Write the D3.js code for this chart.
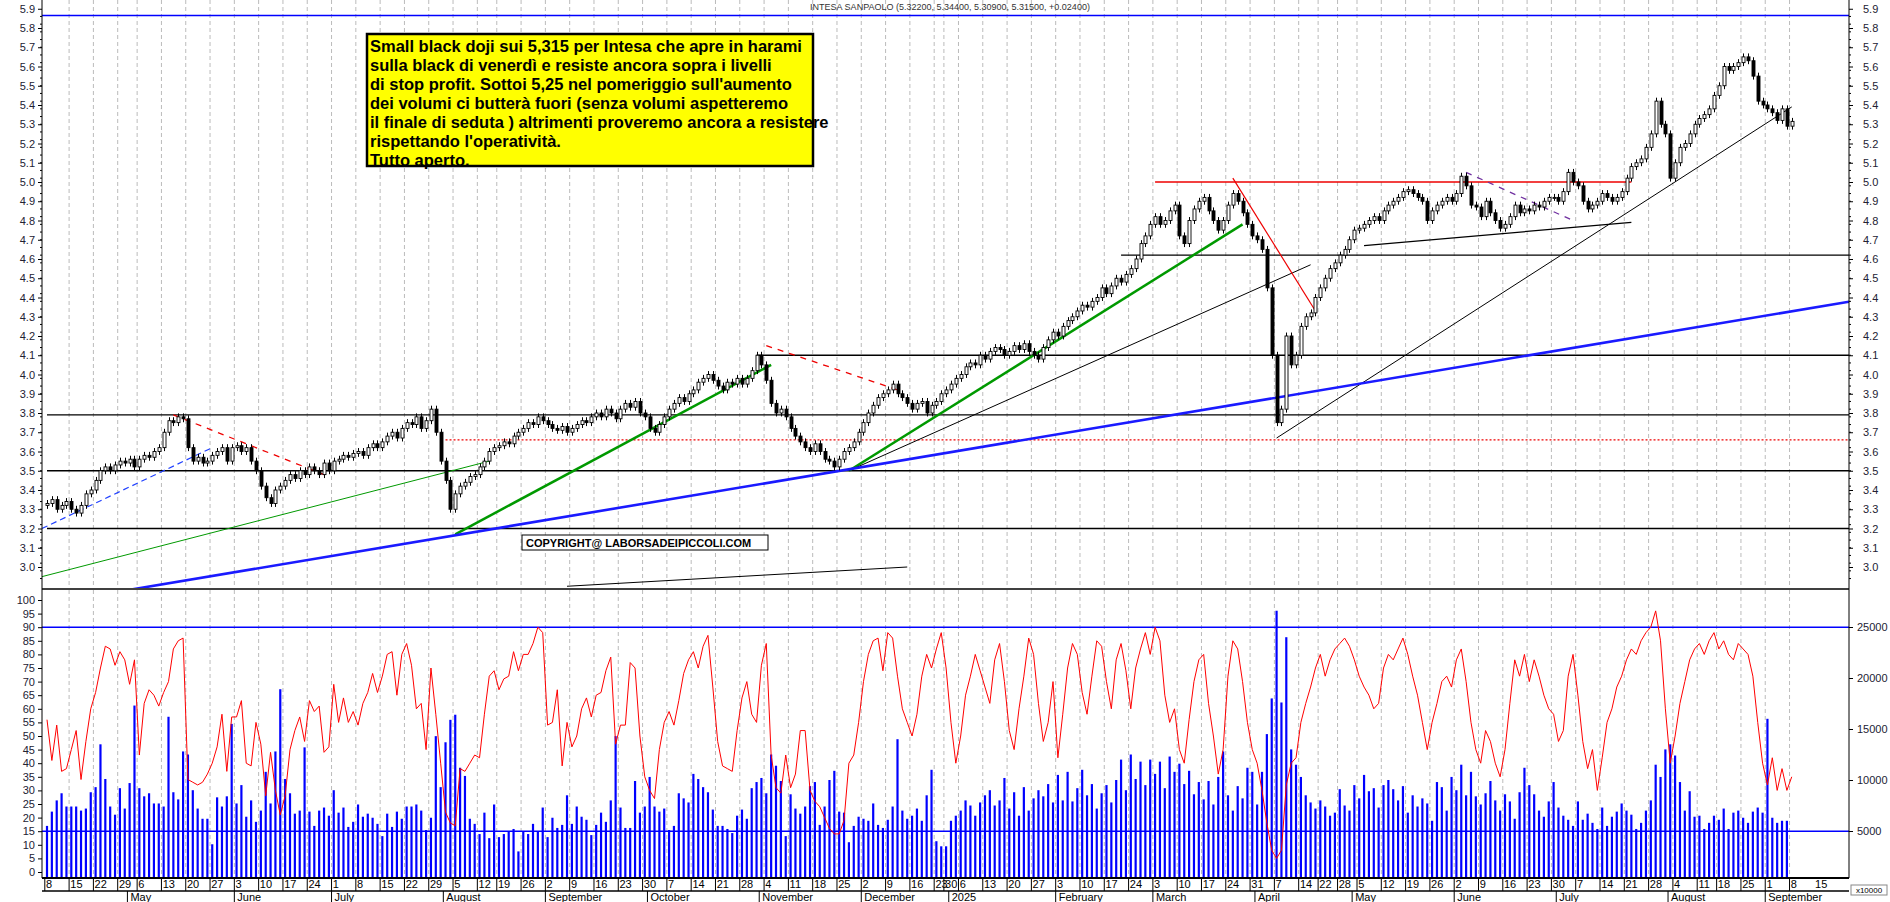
<!DOCTYPE html>
<html><head><meta charset="utf-8">
<script src="https://cdn.jsdelivr.net/npm/d3@7"></script>
<style>body{margin:0;background:#fff}svg{display:block}text{font-family:"Liberation Sans",Arial,sans-serif}</style>
</head><body><svg id="c" width="1890" height="902"></svg>
<script>
const title = "INTESA SANPAOLO (5.32200, 5.34400, 5.30900, 5.31500, +0.02400)";
const note = ["Small black doji sui 5,315 per Intesa che apre in harami","sulla black di venerdì e resiste ancora sopra i livelli","di stop profit. Sottoi 5,25 nel pomeriggio sull'aumento","dei volumi ci butterà fuori (senza volumi aspetteremo","il finale di seduta ) altrimenti proveremo ancora a resistere","rispettando l'operatività.","Tutto aperto."];
const copyright = "COPYRIGHT@ LABORSADEIPICCOLI.COM";
const holidays = ["2024-05-01","2024-08-15","2024-12-24","2024-12-25","2024-12-26","2024-12-31","2025-01-01","2025-04-18","2025-04-21","2025-05-01","2025-08-15"];
const monthNames = ["January","February","March","April","May","June","July","August","September","October","November","December"];
// weekly closes
const closeWeeks = [
[3.33,3.35,3.30,3.32,3.34],[3.30,3.28,3.32,3.38,3.40],[3.45,3.50,3.52,3.50,3.53],[3.55,3.54,3.56,3.52],
[3.56,3.58,3.57,3.60,3.62],[3.70,3.76,3.75,3.78,3.77],[3.62,3.55,3.57,3.54,3.55],[3.58,3.60,3.62,3.55,3.62],
[3.63,3.60,3.62,3.55,3.50],[3.42,3.36,3.33,3.40,3.42],[3.45,3.48,3.46,3.50,3.48],[3.52,3.50,3.48,3.54,3.50],
[3.55,3.56,3.58,3.57,3.59],[3.60,3.58,3.62,3.64,3.62],[3.65,3.68,3.70,3.67,3.72],[3.75,3.74,3.78,3.72,3.76],
[3.82,3.70,3.55,3.45,3.30],[3.38,3.42,3.44,3.47,3.48],[3.52,3.55,3.60,3.62],[3.63,3.65,3.64,3.68,3.70],
[3.72,3.75,3.74,3.78,3.76],[3.74,3.72,3.71,3.73,3.70],[3.72,3.74,3.76,3.75,3.78],[3.80,3.78,3.82,3.80,3.77],
[3.82,3.85,3.83,3.86,3.80],[3.78,3.72,3.70,3.74,3.78],[3.82,3.85,3.88,3.86,3.90],[3.92,3.96,3.98,4.00,3.97],
[3.94,3.92,3.96,3.95,3.98],[3.95,3.98,4.02,4.10,4.05],[3.97,3.85,3.80,3.82,3.78],[3.72,3.68,3.65,3.62,3.60],
[3.64,3.60,3.56,3.55,3.52],[3.56,3.60,3.62,3.65,3.70],[3.75,3.80,3.84,3.88,3.90],[3.92,3.95,3.90,3.88,3.85],
[3.82,3.85,3.86,3.80,3.84],[3.86,3.90],[3.92,3.95,3.98],[4.00,4.04,4.06,4.05,4.10],
[4.08,4.12,4.14,4.13,4.10],[4.12,4.15,4.13,4.16,4.12],[4.10,4.08,4.14,4.18,4.22],[4.20,4.25,4.28,4.30,4.33],
[4.36,4.35,4.38,4.40,4.45],[4.42,4.46,4.50,4.48,4.52],[4.55,4.60,4.68,4.72,4.78],[4.82,4.78,4.80,4.85,4.88],
[4.72,4.68,4.80,4.86,4.90],[4.92,4.85,4.80,4.75,4.80],[4.88,4.94,4.90,4.84,4.78],[4.72,4.70,4.65,4.45,4.10],
[3.75,3.82,4.20,4.05,4.10],[4.25,4.30,4.32,4.40],[4.45,4.50,4.55,4.58],[4.62,4.65,4.70,4.75],
[4.76,4.78,4.80,4.82,4.80],[4.85,4.88,4.90,4.92,4.95],[4.96,4.94,4.92,4.90,4.80],[4.85,4.88,4.90,4.92,4.90],
[4.94,5.03,4.98,4.88,4.87],[4.82,4.90,4.84,4.80,4.76],[4.78,4.82,4.88,4.84,4.86],[4.85,4.88,4.87,4.90,4.92],
[4.92,4.90,4.95,5.05,5.00],[4.98,4.90,4.86,4.88,4.90],[4.94,4.92,4.90,4.92,4.95],[5.02,5.08,5.10,5.12,5.18],
[5.25,5.42,5.30,5.25,5.02],[5.10,5.18,5.20,5.25,5.30],[5.33,5.35,5.38,5.45],[5.50,5.60,5.58,5.60,5.62],
[5.65,5.63,5.55,5.42,5.40],[5.38,5.36,5.32,5.38,5.29],[5.315]];
const oscWeeks = [
[56,41,54,37,38],[45,52,34,48,60],[66,75,83,82,76],[81,78,69,78],[43,62,67,65,61],[66,70,82,85,86],
[34,33,32,33,36],[40,46,58,37,57],[57,63,40,39,55],[47,28,44,30,21],[28,45,52,57,48],[63,59,61,44,46],
[69,55,64,55,59],[54,62,66,73,66],[72,80,81,65,80],[84,76,60,62,45],[75,58,40,22,18],[17,38,37,40,43],
[42,58,72,74],[67,71,72,81,74],[80,80,84,90,88],[54,55,67,39,55],[46,50,60,64,57],[65,66,74,79,47],
[54,54,77,75,50],[35,30,27,45,55],[59,54,63,73,78],[81,75,83,87,68],[48,39,38,37,52],[64,70,58,55,76],
[84,43,31,29,43],[31,36,52,52,30],[26,24,20,16,14],[14,19,40,43,55],[70,80,85,86,74],[88,86,72,60,55],
[50,58,72,80,75],[82,88],[75,55,40],[50,65,72,80,74],[68,62,78,84,70],[52,45,60,72,86],
[80,62,48,55,70],[42,58,75,84,80],[66,58,72,85,83],[70,60,78,84,74],[60,75,82,88,80],[90,85,65,55,60],
[45,40,56,70,78],[80,62,50,36,45],[72,85,82,70,55],[45,40,30,18,8],[5,8,32,40,42],[55,62,68,75],
[80,72,78,82],[84,86,83,78],[72,68,65,60,62],[75,80,78,82,86],[80,72,65,55,45],[55,62,70,72,68],
[78,82,70,55,45],[40,52,48,40,35],[45,62,78,72,80],[70,78,72,65,60],[58,48,52,72,80],[65,48,38,45,30],
[42,55,60,68,72],[78,82,80,85,88],[90,96,85,60,40],[50,62,70,78,82],[84,80,85,88],[82,85,80,78,84],
[82,80,72,55,40],[32,42,30,38,30],[35]];
const volWeeks = [
[5500,6900,8000,8700,7400],[7400,7400,7000,7200,8800],[9300,13500,10100,7400,6600],[9200,7200,9700,17300],
[9200,8400,8700,7700,7700],[7400,16200,8800,8100,12800],[12500,9000,7200,6200,6200],[3700,8300,7400,8400,15500],
[7700,9500,6400,8000,5900],[7000,10800,7700,12800,18900],[10100,8700,6700,7000,13200],[6900,5500,7000,7300,6500],
[9000,6800,7300,5400,5900],[7600,6400,6700,6300,5700],[4500,6700,5400,6900,6200],[7400,7400,7600,7000,5100],
[6300,14300,9300,13700,15900],[16400,11200,10400,6200,5700],[4700,6800,4300,7600],[4400,4700,5000,5200,3000],
[5000,4700,5700,5000,7300],[4400,6300,5300,5600,8500],[5700,7400,6400,6100,4600],[5600,6800,5900,8000,14300],
[7300,5300,5300,9900,6800],[7400,10300,7400,6900,7200],[5100,5500,8700,8200,7800],[10600,10100,9300,8800,7100],
[5500,5500,5200,4800,6500],[7100,6200,9200,9800,10200],[8700,12500,11400,9900,4500],[8600,7200,6700,7400,9400],
[9800,5600,7400,10000,10900],[6900,6800,3900,5500,6400],[6200,6000,7700,5600,5300],[6100,7400,14000,7000,6200],
[6500,7200,6000,8500,11000],[4000,3500],[3500,6000,6500],[7000,8000,7500,6500,7800],
[8500,9000,7500,8000,10200],[7200,8800,6500,9300,7000],[8200,9000,8400,9600,7800],[10500,8000,10800,7900,9200],
[11000,8500,9600,7200,8700],[9500,7800,10000,12000,9000],[12500,10100,11800,9500,12000],[10600,11800,9200,12300,10800],
[11600,9600,10900,8600,9800],[8100,9900,7600,10300,12800],[8500,7000,9400,8200,11200],[10800,7600,10800,14500,18000],
[26600,17600,24000,13000,11500],[10300,8500,7800,7200],[8000,7400,6500,6800],[9100,7500,7000,9500],
[8200,10500,8900,9200,7300],[9500,10000,9100,8000,9400],[6800,8500,7400,8200,7700],[6000,9800,9300,7000,10300],
[9000,11500,8500,10800,8400],[7600,8700,9900,8000,7000],[8600,7900,6200,8800,11200],[9500,8600,7000,6400,7900],
[9800,7300,6500,6100,5500],[7900,6100,6700,5800,5200],[7300,5500,6400,6900,7700],[7000,6600,5200,5800,7000],
[8000,11500,10300,13000,13500],[12400,9800,7000,8900,6400],[6500,5200,5800,6500],[6100,7200,5200,6800,7000],
[6300,5800,6900,7300,6800],[16000,6300,5800,6000,6000],[300]];
// annotation lines: [date1, price1, date2, price2, color, width, dash]
const lines = [
["2024-04-08",3.79,"END",3.79,"#000",1.3,null],
["2024-04-08",3.50,"END",3.50,"#000",1.3,null],
["2024-04-08",3.20,"END",3.20,"#000",1.3,null],
["2024-10-31",4.10,"END",4.10,"#000",1.3,null],
["2025-02-20",4.62,"END",4.62,"#000",1.3,null],
["2025-03-03",5.00,"2025-07-22",5.00,"#e00",1.3,null],
["2024-08-01",3.66,"END",3.66,"#e00",1.2,"2,2"],
["START",2.95,"2024-08-14",3.55,"#090",1,null],
["2024-08-05",3.17,"2024-11-05",4.05,"#090",2.5,null],
["2024-11-27",3.50,"2025-03-27",4.78,"#090",2.5,null],
["2024-11-27",3.50,"2025-04-16",4.57,"#000",1,null],
["2025-04-07",3.67,"2025-09-08",5.39,"#000",1,null],
["2025-05-06",4.67,"2025-07-22",4.79,"#000",1.3,null],
["2024-05-15",3.79,"2024-06-28",3.47,"#e00",1.3,"6,6"],
["2024-11-04",4.15,"2024-12-11",3.92,"#e00",1.3,"6,6"],
["2025-03-25",5.02,"2025-04-17",4.33,"#e00",1.2,null],
["2025-06-04",5.05,"2025-07-04",4.80,"#7030a0",1.3,"6,6"],
["START",3.20,"2024-05-27",3.62,"#2040ff",1.2,"6,4"],
["2024-09-06",2.90,"2024-12-13",3.00,"#000",1,null]
];
const blueTrend = [["2024-08-05",3.165],["2025-04-07",3.88]];

// ---------- setup ----------
const svg = d3.select("#c");
const X0=42, X1=1849;
const fmt = d3.timeFormat("%Y-%m-%d");
const hol = new Set(holidays);
const dates=[];
for(let d=new Date(2024,3,8); d<=new Date(2025,8,8); d=d3.timeDay.offset(d,1)){
  const w=d.getDay(); if(w===0||w===6||hol.has(fmt(d))) continue; dates.push(new Date(d));
}
const closes=closeWeeks.flat(), osc=oscWeeks.flat(), vol=volWeeks.flat();
const idx = new Map(dates.map((d,i)=>[fmt(d),i]));
const step=4.86;
const x = d3.scaleLinear().domain([0,1]).range([47,47+step]);
const maxIdx = x.invert(X1);
const y = d3.scaleLinear().domain([5,4]).range([182,374.5]);
const PT=0, PB=588, LT=590, LB=878;
const yL = d3.scaleLinear().domain([0,100]).range([872,600]);
const yV = d3.scaleLinear().domain([5000,25000]).range([831,627]);

function di(s){ if(s==="END") return maxIdx; if(s==="START") return x.invert(X0); return idx.get(s); }

const defs=svg.append("defs");
defs.append("clipPath").attr("id","cp").append("rect").attr("x",X0).attr("y",PT).attr("width",X1-X0).attr("height",PB-PT);
defs.append("clipPath").attr("id","cl").append("rect").attr("x",X0).attr("y",LT).attr("width",X1-X0).attr("height",LB-LT);

const weekStarts=[]; dates.forEach((d,i)=>{ if(i===0||d3.timeMonday.floor(d)>d3.timeMonday.floor(dates[i-1])) weekStarts.push(i);});
const grid=svg.append("g").attr("stroke","#bbb").attr("stroke-dasharray","4,3");
weekStarts.forEach(i=>{ if(i===0) return; const gx=x(i)-2.2;
  grid.append("line").attr("x1",gx).attr("x2",gx).attr("y1",PT).attr("y2",PB);
  grid.append("line").attr("x1",gx).attr("x2",gx).attr("y1",LT).attr("y2",LB);});

const ann=svg.append("g").attr("clip-path","url(#cp)");
ann.append("line").attr("x1",X0).attr("x2",X1).attr("y1",y(5.865)).attr("y2",y(5.865)).attr("stroke","#00f").attr("stroke-width",1.3);
lines.forEach(l=>{
  ann.append("line").attr("x1",x(di(l[0]))).attr("y1",y(l[1])).attr("x2",x(di(l[2]))).attr("y2",y(l[3]))
   .attr("stroke",l[4]).attr("stroke-width",l[5]).attr("stroke-dasharray",l[6]);
});
{ const i1=idx.get(blueTrend[0][0]), i2=idx.get(blueTrend[1][0]); const s=(blueTrend[1][1]-blueTrend[0][1])/(i2-i1);
  const a=x.invert(X0), b=maxIdx;
  ann.append("line").attr("x1",x(a)).attr("y1",y(blueTrend[0][1]+(a-i1)*s)).attr("x2",x(b)).attr("y2",y(blueTrend[0][1]+(b-i1)*s))
   .attr("stroke","#1a1aff").attr("stroke-width",2.6); }

const cg=svg.append("g").attr("clip-path","url(#cp)");
closes.forEach((c,i)=>{
  const o = i===0?3.32:closes[i-1];
  const hi=Math.max(o,c)+0.018, lo=Math.min(o,c)-0.018, cx=Math.round(x(i))+0.5;
  cg.append("line").attr("x1",cx).attr("x2",cx).attr("y1",y(hi)).attr("y2",y(lo)).attr("stroke","#000");
  const top=y(Math.max(o,c)), h=Math.max(1,y(Math.min(o,c))-top);
  cg.append("rect").attr("x",cx-1.5).attr("y",top).attr("width",3).attr("height",h)
    .attr("fill",c<o?"#000":"#fff").attr("stroke","#000").attr("stroke-width",0.9);
});

const lg=svg.append("g").attr("clip-path","url(#cl)");
lg.selectAll(".v").data(vol).join("line").attr("x1",(d,i)=>x(i)).attr("x2",(d,i)=>x(i))
  .attr("y1",LB).attr("y2",d=>yV(d)).attr("stroke","#00f").attr("stroke-width",2.2);
[90,15].forEach(v=>lg.append("line").attr("x1",X0).attr("x2",X1).attr("y1",yL(v)).attr("y2",yL(v)).attr("stroke","#00f").attr("stroke-width",1.4));
lg.append("path").datum(osc).attr("fill","none").attr("stroke","#f00").attr("stroke-width",1)
  .attr("d",d3.line().x((d,i)=>x(i)).y(d=>yL(d)));

svg.append("line").attr("x1",X0).attr("x2",X1).attr("y1",589).attr("y2",589).attr("stroke","#000").attr("stroke-width",1.5);
svg.append("line").attr("x1",X0).attr("x2",X0).attr("y1",0).attr("y2",LB).attr("stroke","#000");
svg.append("line").attr("x1",X1).attr("x2",X1).attr("y1",0).attr("y2",LB).attr("stroke","#000");

const pTicks=d3.range(30,60).map(v=>v/10);
const pAxisL=d3.axisLeft(y).tickValues(pTicks).tickFormat(d3.format(".1f")).tickSize(4);
const pAxisR=d3.axisRight(y).tickValues(pTicks).tickFormat(d3.format(".1f")).tickSize(4);
function styl(g){ g.select(".domain").remove(); g.selectAll("text").attr("font-size",11).attr("fill","#223"); }
svg.append("g").attr("transform",`translate(${X0},0)`).call(pAxisL).call(styl);
svg.append("g").attr("transform",`translate(${X1},0)`).call(pAxisR).call(g=>{styl(g);g.selectAll("text").attr("x",14);});
const minor=d3.range(145,295,2).map(v=>v/50).filter(v=>y(v)>2&&y(v)<586);
svg.append("g").selectAll("line").data(minor).join("line").attr("x1",X0-2).attr("x2",X0).attr("y1",d=>y(d)).attr("y2",d=>y(d)).attr("stroke","#000");
svg.append("g").selectAll("line").data(minor).join("line").attr("x1",X1).attr("x2",X1+2).attr("y1",d=>y(d)).attr("y2",d=>y(d)).attr("stroke","#000");
svg.append("g").attr("transform",`translate(${X0},0)`).call(d3.axisLeft(yL).tickValues(d3.range(0,101,5)).tickSize(4)).call(styl);
svg.append("g").attr("transform",`translate(${X1},0)`).call(d3.axisRight(yV).tickValues([5000,10000,15000,20000,25000]).tickFormat(d3.format("d")).tickSize(4))
  .call(g=>{styl(g);g.selectAll("text").attr("x",8);});
svg.append("rect").attr("x",1851).attr("y",885).attr("width",36).attr("height",10).attr("fill","#fff").attr("stroke","#888");
svg.append("text").attr("x",1869).attr("y",893).attr("text-anchor","middle").attr("font-size",8).text("x10000");

svg.append("line").attr("x1",X0).attr("x2",X1).attr("y1",LB).attr("y2",LB).attr("stroke","#000").attr("stroke-width",2);
svg.append("line").attr("x1",X0).attr("x2",X1).attr("y1",891).attr("y2",891).attr("stroke","#000").attr("stroke-width",1.5);
const xa=svg.append("g").attr("font-size",11);
weekStarts.forEach(i=>{ xa.append("text").attr("x",x(i)-1).attr("y",888).text(dates[i].getDate());
  xa.append("line").attr("x1",x(i)-2.2).attr("x2",x(i)-2.2).attr("y1",LB).attr("y2",891).attr("stroke","#000"); });
xa.append("text").attr("x",x(dates.length-1)+5*step-1).attr("y",888).text("15");
dates.forEach((d,i)=>{ if(i>0 && d.getMonth()!==dates[i-1].getMonth()){
  const mx=x(i)-2.2;
  xa.append("line").attr("x1",mx).attr("x2",mx).attr("y1",891).attr("y2",902).attr("stroke","#000");
  xa.append("text").attr("x",mx+3).attr("y",901).attr("font-size",11).text(d.getMonth()===0?d.getFullYear():monthNames[d.getMonth()]);
}});

svg.append("text").attr("x",950).attr("y",10).attr("text-anchor","middle").attr("font-size",9).attr("fill","#333").text(title);
svg.append("rect").attr("x",367).attr("y",34).attr("width",446).attr("height",132).attr("fill","#ffff00").attr("stroke","#000").attr("stroke-width",2.5);
const nt=svg.append("text").attr("font-size",16.5).attr("font-weight","bold").attr("font-family",'"Liberation Sans Narrow","Arial Narrow",sans-serif');
note.forEach((s,k)=>nt.append("tspan").attr("x",370).attr("y",52+k*19).text(s));
svg.append("rect").attr("x",522).attr("y",535).attr("width",246).attr("height",15).attr("fill","#fff").attr("stroke","#000");
svg.append("text").attr("x",526).attr("y",547).attr("font-size",11).attr("font-weight","bold").text(copyright);
</script></body></html>
